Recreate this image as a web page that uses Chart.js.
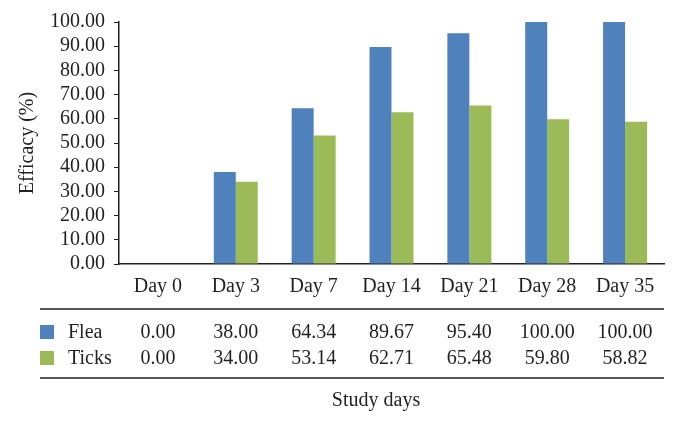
<!DOCTYPE html>
<html>
<head>
<meta charset="utf-8">
<script src="https://cdn.jsdelivr.net/npm/chart.js@4.4.0/dist/chart.umd.min.js"></script>
<style>
  html, body { margin: 0; padding: 0; background: #fff; }
  #wrap { width: 679px; height: 426px; }
</style>
</head>
<body>
<div id="wrap"><canvas id="chart" width="679" height="426"></canvas></div>
<script>
const days = ["Day 0", "Day 3", "Day 7", "Day 14", "Day 21", "Day 28", "Day 35"];
const flea = [0.00, 38.00, 64.34, 89.67, 95.40, 100.00, 100.00];
const ticks = [0.00, 34.00, 53.14, 62.71, 65.48, 59.80, 58.82];
const seriesNames = ["Flea", "Ticks"];
const seriesColors = ["#4f81bd", "#9bbb59"];

const FONT = "'Liberation Serif', 'DejaVu Serif', serif";
const INK = "#231f20";

// draws the data table under the axis, the y title and "Study days"
const tablePlugin = {
    id: "dataTable",
    afterDraw(chart) {
        const ctx = chart.ctx;
        const x = chart.scales.x;
        const area = chart.chartArea;
        const left = 40;
        ctx.save();
        ctx.strokeStyle = INK;
        ctx.lineWidth = 1.5;
        [309, 378].forEach(y => {
            ctx.beginPath();
            ctx.moveTo(left, y);
            ctx.lineTo(area.right, y);
            ctx.stroke();
        });

        ctx.font = "20px " + FONT;
        ctx.fillStyle = INK;
        ctx.textBaseline = "middle";
        const rows = [flea, ticks];
        const rowY = [333, 359];
        rows.forEach((vals, r) => {
            ctx.fillStyle = seriesColors[r];
            ctx.fillRect(left, rowY[r] - 8, 14, 14);
            ctx.fillStyle = INK;
            ctx.textAlign = "left";
            ctx.fillText(seriesNames[r], 68, rowY[r]);
            ctx.textAlign = "center";
            vals.forEach((v, i) => {
                ctx.fillText(v.toFixed(2), x.getPixelForValue(i), rowY[r]);
            });
        });

        ctx.textAlign = "center";
        ctx.fillText("Study days", 376, 401);

        ctx.translate(28, (area.top + area.bottom) / 2);
        ctx.rotate(-Math.PI / 2);
        ctx.fillText("Efficacy (%)", 0, 0);
        ctx.restore();
    }
};

new Chart("chart", {
    type: "bar",
    data: {
        labels: days,
        datasets: [{
            label: seriesNames[0],
            data: flea,
            backgroundColor: seriesColors[0]
        }, {
            label: seriesNames[1],
            data: ticks,
            backgroundColor: seriesColors[1]
        }]
    },
    options: {
        responsive: false,
        animation: false,
        layout: { padding: { top: 22, right: 15, left: 0, bottom: 0 } },
        datasets: {
            bar: { categoryPercentage: 0.565, barPercentage: 1 }
        },
        plugins: {
            legend: { display: false },
            tooltip: { enabled: false }
        },
        scales: {
            x: {
                grid: { display: false },
                border: { color: INK, width: 1.5 },
                ticks: {
                    color: INK,
                    font: { family: FONT, size: 20 },
                    padding: 3,
                    maxRotation: 0
                },
                afterFit(scale) { scale.height = 162; }
            },
            y: {
                min: 0,
                max: 100,
                grid: { drawOnChartArea: false, color: INK, tickLength: 5 },
                border: { color: INK, width: 1.5 },
                ticks: {
                    stepSize: 10,
                    autoSkip: false,
                    color: INK,
                    padding: 9,
                    font: { family: FONT, size: 20 },
                    callback: v => v.toFixed(2)
                },
                afterFit(scale) { scale.width = 119; }
            }
        }
    },
    plugins: [tablePlugin]
});
</script>
</body>
</html>
